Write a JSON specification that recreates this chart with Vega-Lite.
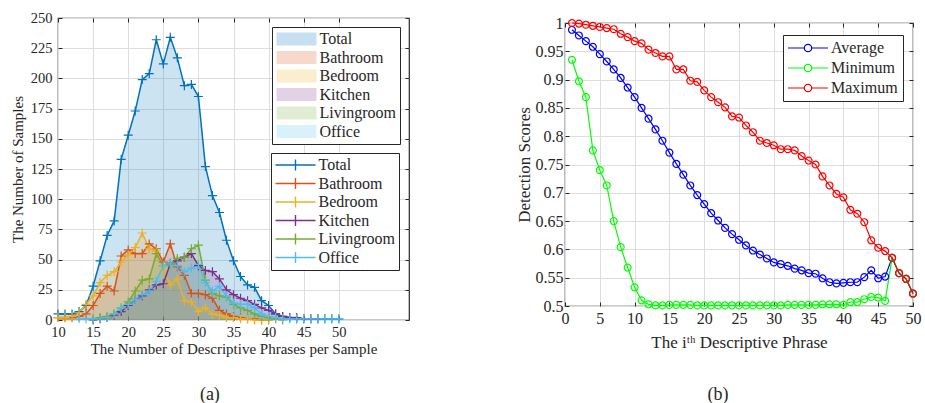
{
"$schema": "https://vega.github.io/schema/vega-lite/v6.json",
"padding": {"left": 9, "top": 9, "right": 0, "bottom": 0},
"spacing": 103,
"columns": 2,
"resolve": {"scale": {"stroke": "independent", "fill": "independent"}, "legend": {"stroke": "independent", "fill": "independent"}},
"config": {
  "font": "Liberation Serif",
  "view": {"stroke": "#262626", "strokeWidth": 1.2},
  "axis": {"grid": true, "gridColor": "#dedede", "domain": false, "tickColor": "#262626", "tickSize": -4, "labelFlush": false, "labelColor": "#262626", "titleColor": "#262626", "titleFontWeight": "normal", "labelFont": "Liberation Serif", "titleFont": "Liberation Serif"},
  "legend": {"labelFont": "Liberation Serif", "labelColor": "#262626"},
  "title": {"font": "Liberation Serif", "fontWeight": "normal", "color": "#262626"}
},
"datasets": {
"counts": [
{"x":10,"series":"Total","n":5},{"x":11,"series":"Total","n":5},{"x":12,"series":"Total","n":5},{"x":13,"series":"Total","n":7},{"x":14,"series":"Total","n":12},
{"x":15,"series":"Total","n":28},{"x":16,"series":"Total","n":49},{"x":17,"series":"Total","n":70},{"x":18,"series":"Total","n":82},{"x":19,"series":"Total","n":133},
{"x":20,"series":"Total","n":153},{"x":21,"series":"Total","n":173},{"x":22,"series":"Total","n":199},{"x":23,"series":"Total","n":204},{"x":24,"series":"Total","n":232},
{"x":25,"series":"Total","n":212},{"x":26,"series":"Total","n":234},{"x":27,"series":"Total","n":217},{"x":28,"series":"Total","n":194},{"x":29,"series":"Total","n":195},
{"x":30,"series":"Total","n":185},{"x":31,"series":"Total","n":127},{"x":32,"series":"Total","n":103},{"x":33,"series":"Total","n":89},{"x":34,"series":"Total","n":66},
{"x":35,"series":"Total","n":49},{"x":36,"series":"Total","n":36},{"x":37,"series":"Total","n":29},{"x":38,"series":"Total","n":27},{"x":39,"series":"Total","n":16},
{"x":40,"series":"Total","n":12},{"x":41,"series":"Total","n":5},{"x":42,"series":"Total","n":3},{"x":43,"series":"Total","n":2},{"x":44,"series":"Total","n":1},
{"x":45,"series":"Total","n":1},{"x":46,"series":"Total","n":1},{"x":47,"series":"Total","n":1},{"x":48,"series":"Total","n":1},{"x":49,"series":"Total","n":1},{"x":50,"series":"Total","n":1},
{"x":10,"series":"Bathroom","n":2},{"x":11,"series":"Bathroom","n":2},{"x":12,"series":"Bathroom","n":2},{"x":13,"series":"Bathroom","n":3},{"x":14,"series":"Bathroom","n":5},
{"x":15,"series":"Bathroom","n":12},{"x":16,"series":"Bathroom","n":22},{"x":17,"series":"Bathroom","n":28},{"x":18,"series":"Bathroom","n":24},{"x":19,"series":"Bathroom","n":53},
{"x":20,"series":"Bathroom","n":58},{"x":21,"series":"Bathroom","n":55},{"x":22,"series":"Bathroom","n":55},{"x":23,"series":"Bathroom","n":63},{"x":24,"series":"Bathroom","n":59},
{"x":25,"series":"Bathroom","n":48},{"x":26,"series":"Bathroom","n":63},{"x":27,"series":"Bathroom","n":44},{"x":28,"series":"Bathroom","n":37},{"x":29,"series":"Bathroom","n":22},
{"x":30,"series":"Bathroom","n":22},{"x":31,"series":"Bathroom","n":21},{"x":32,"series":"Bathroom","n":18},{"x":33,"series":"Bathroom","n":8},{"x":34,"series":"Bathroom","n":5},
{"x":35,"series":"Bathroom","n":3},{"x":36,"series":"Bathroom","n":2},{"x":37,"series":"Bathroom","n":1},{"x":38,"series":"Bathroom","n":1},{"x":39,"series":"Bathroom","n":0},{"x":40,"series":"Bathroom","n":0},
{"x":10,"series":"Bedroom","n":2},{"x":11,"series":"Bedroom","n":2},{"x":12,"series":"Bedroom","n":3},{"x":13,"series":"Bedroom","n":6},{"x":14,"series":"Bedroom","n":13},
{"x":15,"series":"Bedroom","n":20},{"x":16,"series":"Bedroom","n":31},{"x":17,"series":"Bedroom","n":37},{"x":18,"series":"Bedroom","n":40},{"x":19,"series":"Bedroom","n":48},
{"x":20,"series":"Bedroom","n":54},{"x":21,"series":"Bedroom","n":60},{"x":22,"series":"Bedroom","n":72},{"x":23,"series":"Bedroom","n":59},{"x":24,"series":"Bedroom","n":57},
{"x":25,"series":"Bedroom","n":42},{"x":26,"series":"Bedroom","n":29},{"x":27,"series":"Bedroom","n":34},{"x":28,"series":"Bedroom","n":16},{"x":29,"series":"Bedroom","n":15},
{"x":30,"series":"Bedroom","n":7},{"x":31,"series":"Bedroom","n":10},{"x":32,"series":"Bedroom","n":5},{"x":33,"series":"Bedroom","n":4},{"x":34,"series":"Bedroom","n":2},
{"x":35,"series":"Bedroom","n":2},{"x":36,"series":"Bedroom","n":1},{"x":37,"series":"Bedroom","n":1},{"x":38,"series":"Bedroom","n":0},{"x":39,"series":"Bedroom","n":0},{"x":40,"series":"Bedroom","n":0},
{"x":15,"series":"Kitchen","n":0},{"x":16,"series":"Kitchen","n":1},{"x":17,"series":"Kitchen","n":2},{"x":18,"series":"Kitchen","n":4},{"x":19,"series":"Kitchen","n":7},
{"x":20,"series":"Kitchen","n":12},{"x":21,"series":"Kitchen","n":17},{"x":22,"series":"Kitchen","n":20},{"x":23,"series":"Kitchen","n":25},{"x":24,"series":"Kitchen","n":29},
{"x":25,"series":"Kitchen","n":30},{"x":26,"series":"Kitchen","n":47},{"x":27,"series":"Kitchen","n":49},{"x":28,"series":"Kitchen","n":52},{"x":29,"series":"Kitchen","n":55},
{"x":30,"series":"Kitchen","n":45},{"x":31,"series":"Kitchen","n":41},{"x":32,"series":"Kitchen","n":40},{"x":33,"series":"Kitchen","n":34},{"x":34,"series":"Kitchen","n":25},
{"x":35,"series":"Kitchen","n":21},{"x":36,"series":"Kitchen","n":18},{"x":37,"series":"Kitchen","n":16},{"x":38,"series":"Kitchen","n":13},{"x":39,"series":"Kitchen","n":10},
{"x":40,"series":"Kitchen","n":8},{"x":41,"series":"Kitchen","n":5},{"x":42,"series":"Kitchen","n":3},{"x":43,"series":"Kitchen","n":2},{"x":44,"series":"Kitchen","n":2},
{"x":45,"series":"Kitchen","n":1},{"x":46,"series":"Kitchen","n":1},{"x":47,"series":"Kitchen","n":1},
{"x":15,"series":"Livingroom","n":1},{"x":16,"series":"Livingroom","n":2},{"x":17,"series":"Livingroom","n":3},{"x":18,"series":"Livingroom","n":5},{"x":19,"series":"Livingroom","n":10},
{"x":20,"series":"Livingroom","n":15},{"x":21,"series":"Livingroom","n":24},{"x":22,"series":"Livingroom","n":33},{"x":23,"series":"Livingroom","n":34},{"x":24,"series":"Livingroom","n":55},
{"x":25,"series":"Livingroom","n":45},{"x":26,"series":"Livingroom","n":46},{"x":27,"series":"Livingroom","n":51},{"x":28,"series":"Livingroom","n":52},{"x":29,"series":"Livingroom","n":59},
{"x":30,"series":"Livingroom","n":62},{"x":31,"series":"Livingroom","n":33},{"x":32,"series":"Livingroom","n":22},{"x":33,"series":"Livingroom","n":20},{"x":34,"series":"Livingroom","n":19},
{"x":35,"series":"Livingroom","n":13},{"x":36,"series":"Livingroom","n":10},{"x":37,"series":"Livingroom","n":8},{"x":38,"series":"Livingroom","n":5},{"x":39,"series":"Livingroom","n":3},
{"x":40,"series":"Livingroom","n":2},{"x":41,"series":"Livingroom","n":1},{"x":42,"series":"Livingroom","n":0},
{"x":13,"series":"Office","n":1},{"x":14,"series":"Office","n":1},
{"x":15,"series":"Office","n":1},{"x":16,"series":"Office","n":1},{"x":17,"series":"Office","n":2},{"x":18,"series":"Office","n":5},{"x":19,"series":"Office","n":10},
{"x":20,"series":"Office","n":13},{"x":21,"series":"Office","n":17},{"x":22,"series":"Office","n":21},{"x":23,"series":"Office","n":24},{"x":24,"series":"Office","n":32},
{"x":25,"series":"Office","n":45},{"x":26,"series":"Office","n":47},{"x":27,"series":"Office","n":45},{"x":28,"series":"Office","n":40},{"x":29,"series":"Office","n":43},
{"x":30,"series":"Office","n":46},{"x":31,"series":"Office","n":31},{"x":32,"series":"Office","n":24},{"x":33,"series":"Office","n":28},{"x":34,"series":"Office","n":20},
{"x":35,"series":"Office","n":14},{"x":36,"series":"Office","n":13},{"x":37,"series":"Office","n":13},{"x":38,"series":"Office","n":10},{"x":39,"series":"Office","n":5},
{"x":40,"series":"Office","n":3},{"x":41,"series":"Office","n":2},{"x":42,"series":"Office","n":1},{"x":43,"series":"Office","n":1},{"x":44,"series":"Office","n":1},
{"x":45,"series":"Office","n":1},{"x":46,"series":"Office","n":1},{"x":47,"series":"Office","n":1},{"x":48,"series":"Office","n":1},{"x":49,"series":"Office","n":1},{"x":50,"series":"Office","n":1}
],
"scores": [
{"i":1,"measure":"Average","score":0.988},{"i":2,"measure":"Average","score":0.978},{"i":3,"measure":"Average","score":0.968},{"i":4,"measure":"Average","score":0.958},{"i":5,"measure":"Average","score":0.945},
{"i":6,"measure":"Average","score":0.932},{"i":7,"measure":"Average","score":0.918},{"i":8,"measure":"Average","score":0.903},{"i":9,"measure":"Average","score":0.886},{"i":10,"measure":"Average","score":0.869},
{"i":11,"measure":"Average","score":0.850},{"i":12,"measure":"Average","score":0.831},{"i":13,"measure":"Average","score":0.812},{"i":14,"measure":"Average","score":0.792},{"i":15,"measure":"Average","score":0.771},
{"i":16,"measure":"Average","score":0.751},{"i":17,"measure":"Average","score":0.732},{"i":18,"measure":"Average","score":0.713},{"i":19,"measure":"Average","score":0.696},{"i":20,"measure":"Average","score":0.680},
{"i":21,"measure":"Average","score":0.664},{"i":22,"measure":"Average","score":0.651},{"i":23,"measure":"Average","score":0.638},{"i":24,"measure":"Average","score":0.627},{"i":25,"measure":"Average","score":0.617},
{"i":26,"measure":"Average","score":0.607},{"i":27,"measure":"Average","score":0.598},{"i":28,"measure":"Average","score":0.591},{"i":29,"measure":"Average","score":0.584},{"i":30,"measure":"Average","score":0.577},
{"i":31,"measure":"Average","score":0.574},{"i":32,"measure":"Average","score":0.571},{"i":33,"measure":"Average","score":0.566},{"i":34,"measure":"Average","score":0.563},{"i":35,"measure":"Average","score":0.558},
{"i":36,"measure":"Average","score":0.557},{"i":37,"measure":"Average","score":0.549},{"i":38,"measure":"Average","score":0.542},{"i":39,"measure":"Average","score":0.540},{"i":40,"measure":"Average","score":0.541},
{"i":41,"measure":"Average","score":0.542},{"i":42,"measure":"Average","score":0.542},{"i":43,"measure":"Average","score":0.551},{"i":44,"measure":"Average","score":0.563},{"i":45,"measure":"Average","score":0.549},
{"i":46,"measure":"Average","score":0.552},{"i":47,"measure":"Average","score":0.585},{"i":48,"measure":"Average","score":0.558},{"i":49,"measure":"Average","score":0.548},{"i":50,"measure":"Average","score":0.522},
{"i":1,"measure":"Minimum","score":0.935},{"i":2,"measure":"Minimum","score":0.897},{"i":3,"measure":"Minimum","score":0.869},{"i":4,"measure":"Minimum","score":0.775},{"i":5,"measure":"Minimum","score":0.740},
{"i":6,"measure":"Minimum","score":0.713},{"i":7,"measure":"Minimum","score":0.650},{"i":8,"measure":"Minimum","score":0.604},{"i":9,"measure":"Minimum","score":0.568},{"i":10,"measure":"Minimum","score":0.533},
{"i":11,"measure":"Minimum","score":0.510},{"i":12,"measure":"Minimum","score":0.503},{"i":13,"measure":"Minimum","score":0.501},{"i":14,"measure":"Minimum","score":0.501},{"i":15,"measure":"Minimum","score":0.502},
{"i":16,"measure":"Minimum","score":0.502},{"i":17,"measure":"Minimum","score":0.502},{"i":18,"measure":"Minimum","score":0.502},{"i":19,"measure":"Minimum","score":0.501},{"i":20,"measure":"Minimum","score":0.501},
{"i":21,"measure":"Minimum","score":0.501},{"i":22,"measure":"Minimum","score":0.501},{"i":23,"measure":"Minimum","score":0.501},{"i":24,"measure":"Minimum","score":0.501},{"i":25,"measure":"Minimum","score":0.501},
{"i":26,"measure":"Minimum","score":0.501},{"i":27,"measure":"Minimum","score":0.501},{"i":28,"measure":"Minimum","score":0.501},{"i":29,"measure":"Minimum","score":0.501},{"i":30,"measure":"Minimum","score":0.501},
{"i":31,"measure":"Minimum","score":0.501},{"i":32,"measure":"Minimum","score":0.502},{"i":33,"measure":"Minimum","score":0.502},{"i":34,"measure":"Minimum","score":0.502},{"i":35,"measure":"Minimum","score":0.502},
{"i":36,"measure":"Minimum","score":0.502},{"i":37,"measure":"Minimum","score":0.503},{"i":38,"measure":"Minimum","score":0.503},{"i":39,"measure":"Minimum","score":0.503},{"i":40,"measure":"Minimum","score":0.502},
{"i":41,"measure":"Minimum","score":0.507},{"i":42,"measure":"Minimum","score":0.507},{"i":43,"measure":"Minimum","score":0.512},{"i":44,"measure":"Minimum","score":0.516},{"i":45,"measure":"Minimum","score":0.515},
{"i":46,"measure":"Minimum","score":0.509},{"i":47,"measure":"Minimum","score":0.585},{"i":48,"measure":"Minimum","score":0.558},{"i":49,"measure":"Minimum","score":0.548},{"i":50,"measure":"Minimum","score":0.522},
{"i":1,"measure":"Maximum","score":1.000},{"i":2,"measure":"Maximum","score":0.999},{"i":3,"measure":"Maximum","score":0.997},{"i":4,"measure":"Maximum","score":0.995},{"i":5,"measure":"Maximum","score":0.993},
{"i":6,"measure":"Maximum","score":0.991},{"i":7,"measure":"Maximum","score":0.989},{"i":8,"measure":"Maximum","score":0.981},{"i":9,"measure":"Maximum","score":0.975},{"i":10,"measure":"Maximum","score":0.968},
{"i":11,"measure":"Maximum","score":0.964},{"i":12,"measure":"Maximum","score":0.953},{"i":13,"measure":"Maximum","score":0.947},{"i":14,"measure":"Maximum","score":0.941},{"i":15,"measure":"Maximum","score":0.941},
{"i":16,"measure":"Maximum","score":0.918},{"i":17,"measure":"Maximum","score":0.918},{"i":18,"measure":"Maximum","score":0.898},{"i":19,"measure":"Maximum","score":0.896},{"i":20,"measure":"Maximum","score":0.881},
{"i":21,"measure":"Maximum","score":0.869},{"i":22,"measure":"Maximum","score":0.860},{"i":23,"measure":"Maximum","score":0.851},{"i":24,"measure":"Maximum","score":0.835},{"i":25,"measure":"Maximum","score":0.833},
{"i":26,"measure":"Maximum","score":0.819},{"i":27,"measure":"Maximum","score":0.807},{"i":28,"measure":"Maximum","score":0.792},{"i":29,"measure":"Maximum","score":0.788},{"i":30,"measure":"Maximum","score":0.784},
{"i":31,"measure":"Maximum","score":0.777},{"i":32,"measure":"Maximum","score":0.777},{"i":33,"measure":"Maximum","score":0.775},{"i":34,"measure":"Maximum","score":0.765},{"i":35,"measure":"Maximum","score":0.757},
{"i":36,"measure":"Maximum","score":0.750},{"i":37,"measure":"Maximum","score":0.729},{"i":38,"measure":"Maximum","score":0.713},{"i":39,"measure":"Maximum","score":0.698},{"i":40,"measure":"Maximum","score":0.692},
{"i":41,"measure":"Maximum","score":0.670},{"i":42,"measure":"Maximum","score":0.663},{"i":43,"measure":"Maximum","score":0.648},{"i":44,"measure":"Maximum","score":0.616},{"i":45,"measure":"Maximum","score":0.603},
{"i":46,"measure":"Maximum","score":0.597},{"i":47,"measure":"Maximum","score":0.585},{"i":48,"measure":"Maximum","score":0.558},{"i":49,"measure":"Maximum","score":0.548},{"i":50,"measure":"Maximum","score":0.522}
]
},
"concat": [
{
  "width": 351, "height": 302,
  "data": {"name": "counts"},
  "title": {"text": "(a)", "orient": "bottom", "frame": "bounds", "anchor": "middle", "offset": 29, "fontSize": 18},
  "resolve": {"axis": {"x": "independent", "y": "independent"}},
  "layer": [
    {"mark": {"type": "area", "opacity": 0.2},
     "encoding": {
       "x": {"field": "x", "type": "quantitative", "scale": {"domain": [10, 60], "nice": false},
         "axis": {"title": "The Number of Descriptive Phrases per Sample", "values": [10,15,20,25,30,35,40,45,50], "labelFontSize": 14.5, "titleFontSize": 15, "labelPadding": 9, "titlePadding": 3}},
       "y": {"field": "n", "type": "quantitative", "stack": null, "scale": {"domain": [0, 250], "nice": false},
         "axis": {"title": "The Number of Samples", "values": [0,25,50,75,100,125,150,175,200,225,250], "labelFontSize": 14.5, "titleFontSize": 15, "labelPadding": 10, "titlePadding": 5}},
       "fill": {"field": "series", "type": "nominal",
       "scale": {"domain": ["Total","Bathroom","Bedroom","Kitchen","Livingroom","Office"], "range": ["#0072BD","#D95319","#EDB120","#7E2F8E","#77AC30","#4DBEEE"]},
       "legend": {"orient": "top-right", "offset": 9, "title": null, "symbolType": "M-4,-1.3H4V1.3H-4Z", "symbolSize": 100, "symbolOpacity": 0.22, "symbolStrokeWidth": 0, "symbolOffset": 12.5, "labelOffset": 15, "labelFontSize": 16, "padding": 4, "rowPadding": 2.5, "strokeColor": "#262626", "fillColor": "white"}}}},
    {"mark": {"type": "line", "strokeWidth": 1.5},
     "encoding": {
       "x": {"field": "x", "type": "quantitative", "axis": {"orient": "top", "values": [10,15,20,25,30,35,40,45,50], "labels": false, "grid": false, "title": null}},
       "y": {"field": "n", "type": "quantitative", "stack": null, "axis": {"orient": "right", "values": [0,25,50,75,100,125,150,175,200,225,250], "labels": false, "grid": false, "title": null}},
       "stroke": {"field": "series", "type": "nominal",
       "scale": {"domain": ["Total","Bathroom","Bedroom","Kitchen","Livingroom","Office"], "range": ["#0072BD","#D95319","#EDB120","#7E2F8E","#77AC30","#4DBEEE"]},
       "legend": {"orient": "none", "legendX": 213, "legendY": 135, "title": null, "symbolType": "M-4,0H4M0,-1.1V1.1", "symbolSize": 100, "symbolStrokeWidth": 1.4, "symbolFillColor": "transparent", "symbolOffset": 12.5, "labelOffset": 15, "labelFontSize": 16, "padding": 4, "rowPadding": 0.5, "strokeColor": "#262626", "fillColor": "white"}}}},
    {"mark": {"type": "point", "shape": "M-1,0H1M0,-1V1", "filled": false, "size": 81, "strokeWidth": 1.2, "opacity": 1},
     "encoding": {
       "x": {"field": "x", "type": "quantitative", "axis": null},
       "y": {"field": "n", "type": "quantitative", "stack": null, "axis": null},
       "stroke": {"field": "series", "type": "nominal",
       "scale": {"domain": ["Total","Bathroom","Bedroom","Kitchen","Livingroom","Office"], "range": ["#0072BD","#D95319","#EDB120","#7E2F8E","#77AC30","#4DBEEE"]},
       "legend": {"orient": "none", "legendX": 213, "legendY": 135, "title": null, "symbolType": "M-4,0H4M0,-1.1V1.1", "symbolSize": 100, "symbolStrokeWidth": 1.4, "symbolFillColor": "transparent", "symbolOffset": 12.5, "labelOffset": 15, "labelFontSize": 16, "padding": 4, "rowPadding": 0.5, "strokeColor": "#262626", "fillColor": "white"}}}}
  ]
},
{
  "spacing": -5,
  "vconcat": [
    {"width": 348, "height": 1, "view": {"stroke": null}, "data": {"values": [{"k": 0}]}, "mark": {"type": "rule", "opacity": 0}, "encoding": {}},
    {
      "width": 348, "height": 283,
      "data": {"name": "scores"},
      "title": {"text": "(b)", "orient": "bottom", "frame": "bounds", "anchor": "middle", "offset": 36, "fontSize": 18},
      "resolve": {"axis": {"x": "independent", "y": "independent"}},
      "encoding": {
        "stroke": {"field": "measure", "type": "nominal", "sort": null,
          "scale": {"domain": ["Average","Minimum","Maximum"], "range": ["#0000FF","#00FF00","#FF0000"]},
          "legend": {"orient": "none", "legendX": 218, "legendY": 17, "title": null, "symbolType": "M-4,0H-0.74M0.74,0H4M0.74,0A0.74,0.74,0,1,1,-0.74,0A0.74,0.74,0,1,1,0.74,0", "symbolSize": 100, "symbolStrokeWidth": 1.2, "symbolFillColor": "transparent", "symbolOffset": 12, "labelOffset": 15, "labelFontSize": 16, "padding": 5, "rowPadding": 4, "strokeColor": "#262626", "fillColor": "white"}}
      },
      "layer": [
        {"mark": {"type": "line", "strokeWidth": 1.2},
         "encoding": {
           "x": {"field": "i", "type": "quantitative", "scale": {"domain": [0, 50], "nice": false},
             "axis": {"title": "The iᵗʰ Descriptive Phrase", "values": [0,5,10,15,20,25,30,35,40,45,50], "labelFontSize": 16, "titleFontSize": 17, "labelPadding": 8, "titlePadding": 8}},
           "y": {"field": "score", "type": "quantitative", "scale": {"domain": [0.5, 1], "nice": false, "zero": false},
             "axis": {"title": "Detection Scores", "values": [0.5,0.55,0.6,0.65,0.7,0.75,0.8,0.85,0.9,0.95,1], "labelExpr": "format(datum.value, '.2~f')", "labelFontSize": 16, "titleFontSize": 17, "labelPadding": 6, "titlePadding": 2}}
         }},
        {"mark": {"type": "point", "shape": "circle", "filled": false, "size": 48, "strokeWidth": 1.2, "opacity": 1},
         "encoding": {
           "x": {"field": "i", "type": "quantitative", "axis": {"orient": "top", "values": [0,5,10,15,20,25,30,35,40,45,50], "labels": false, "grid": false, "title": null}},
           "y": {"field": "score", "type": "quantitative", "axis": {"orient": "right", "values": [0.5,0.55,0.6,0.65,0.7,0.75,0.8,0.85,0.9,0.95,1], "labels": false, "grid": false, "title": null}}
         }}
      ]
    }
  ]
}
]
}
